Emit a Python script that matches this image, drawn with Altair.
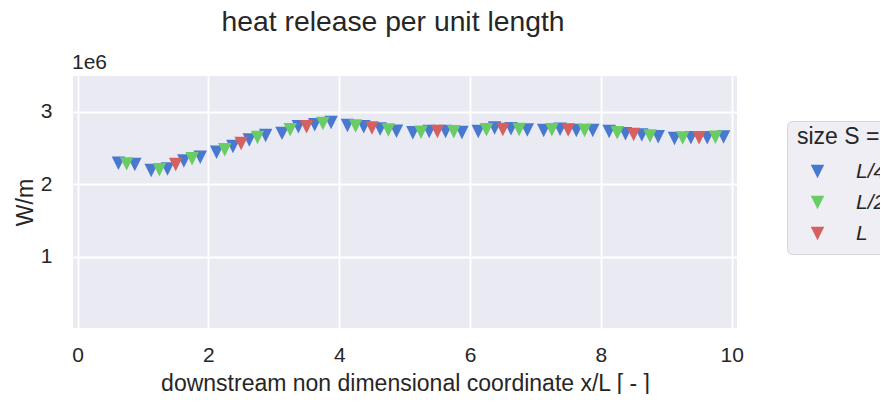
import altair as alt
import pandas as pd

# L/4 series
blue_x = [0.625, 0.875, 1.125, 1.375, 1.625, 1.875, 2.125, 2.375, 2.625, 2.875,
          3.125, 3.375, 3.625, 3.875, 4.125, 4.375, 4.625, 4.875, 5.125, 5.375,
          5.625, 5.875, 6.125, 6.375, 6.625, 6.875, 7.125, 7.375, 7.625, 7.875,
          8.125, 8.375, 8.625, 8.875, 9.125, 9.375, 9.625, 9.875]
blue_y = [2.29, 2.27, 2.19, 2.21, 2.32, 2.37, 2.44, 2.52, 2.61, 2.67,
          2.70, 2.79, 2.82, 2.85, 2.81, 2.79, 2.76, 2.73, 2.71, 2.725,
          2.725, 2.713, 2.727, 2.773, 2.763, 2.745, 2.74, 2.757, 2.74, 2.74,
          2.727, 2.695, 2.676, 2.653, 2.63, 2.64, 2.64, 2.65]
# L/2 series
green_x = [0.75, 1.25, 1.75, 2.25, 2.75, 3.25, 3.75, 4.25, 4.75, 5.25,
           5.75, 6.25, 6.75, 7.25, 7.75, 8.25, 8.75, 9.25, 9.75]
green_y = [2.28, 2.20, 2.35, 2.475, 2.644, 2.75, 2.836, 2.80, 2.745, 2.717,
           2.722, 2.75, 2.754, 2.75, 2.74, 2.708, 2.663, 2.635, 2.645]
# L series
red_x = [1.5, 2.5, 3.5, 4.5, 5.5, 6.5, 7.5, 8.5, 9.5]
red_y = [2.27, 2.56, 2.79, 2.775, 2.725, 2.754, 2.745, 2.685, 2.64]

series = ["L/4", "L/2", "L"]
colors = ["#4878d0", "#6acc64", "#d65f5f"]
x_ticks = [0, 2, 4, 6, 8, 10]
y_ticks = [1, 2, 3]

rows = []
for k, (name, xs, ys) in enumerate(zip(series, [blue_x, green_x, red_x], [blue_y, green_y, red_y])):
    for xv, yv in zip(xs, ys):
        rows.append({"x": xv, "y": yv, "size": name, "k": k})
df = pd.DataFrame(rows)

FONT = "Liberation Sans"
TXT = "#262626"
TRI = "M-1,-1L1,-1L0,1Z"

points = alt.Chart(df).mark_point(
    shape=TRI, filled=True, size=182, opacity=1, strokeWidth=0
).encode(
    x=alt.X("x:Q",
            scale=alt.Scale(domain=[-0.07, 10.08], nice=False, zero=False),
            axis=alt.Axis(values=x_ticks, title="downstream non dimensional coordinate x/L [ - ]",
                          labelPadding=16, titlePadding=7)),
    y=alt.Y("y:Q",
            scale=alt.Scale(domain=[0.02, 3.49], nice=False, zero=False),
            axis=alt.Axis(values=y_ticks, title="W/m", labelPadding=21, titlePadding=3)),
    color=alt.Color("size:N",
                    scale=alt.Scale(domain=series, range=colors),
                    legend=alt.Legend(title="size S =", orient="none", legendX=714, legendY=45,
                                      direction="vertical",
                                      fillColor="#eeeef4", strokeColor="#d6d6d6", cornerRadius=5,
                                      padding=10,
                                      titleFont=FONT, titleFontSize=23, titleFontWeight="normal",
                                      titleColor=TXT, titlePadding=7,
                                      titleBaseline="line-top", titleLineHeight=12,
                                      labelFont=FONT, labelFontSize=21, labelFontStyle="italic",
                                      labelColor=TXT, labelOffset=28,
                                      symbolType=TRI, symbolSize=182, symbolStrokeWidth=0,
                                      symbolOpacity=1, symbolOffset=10, rowPadding=9)),
    order=alt.Order("k:Q"),
)

offset_label = alt.Chart(pd.DataFrame({"t": ["1e6"]})).mark_text(
    align="left", baseline="alphabetic", font=FONT, fontSize=21, color=TXT
).encode(x=alt.value(-1), y=alt.value(-7), text="t:N")

chart = alt.layer(points, offset_label).properties(
    width=664, height=252,
    padding={"left": 65, "top": 68, "right": 143, "bottom": 66},
    autosize="none",
    title=alt.TitleParams("heat release per unit length", font=FONT, fontSize=28.3,
                          fontWeight="normal", color=TXT, anchor="middle", dx=-12, offset=15),
).configure_view(
    fill="#eaeaf2", stroke=None
).configure_axis(
    grid=True, gridColor="white", gridWidth=1.8, domain=False, ticks=False, tickSize=0,
    labelFont=FONT, labelFontSize=21, labelColor=TXT,
    titleFont=FONT, titleFontSize=23, titleFontWeight="normal", titleColor=TXT,
)

chart.save("out.html", embed_options={"renderer": "svg", "actions": False})
